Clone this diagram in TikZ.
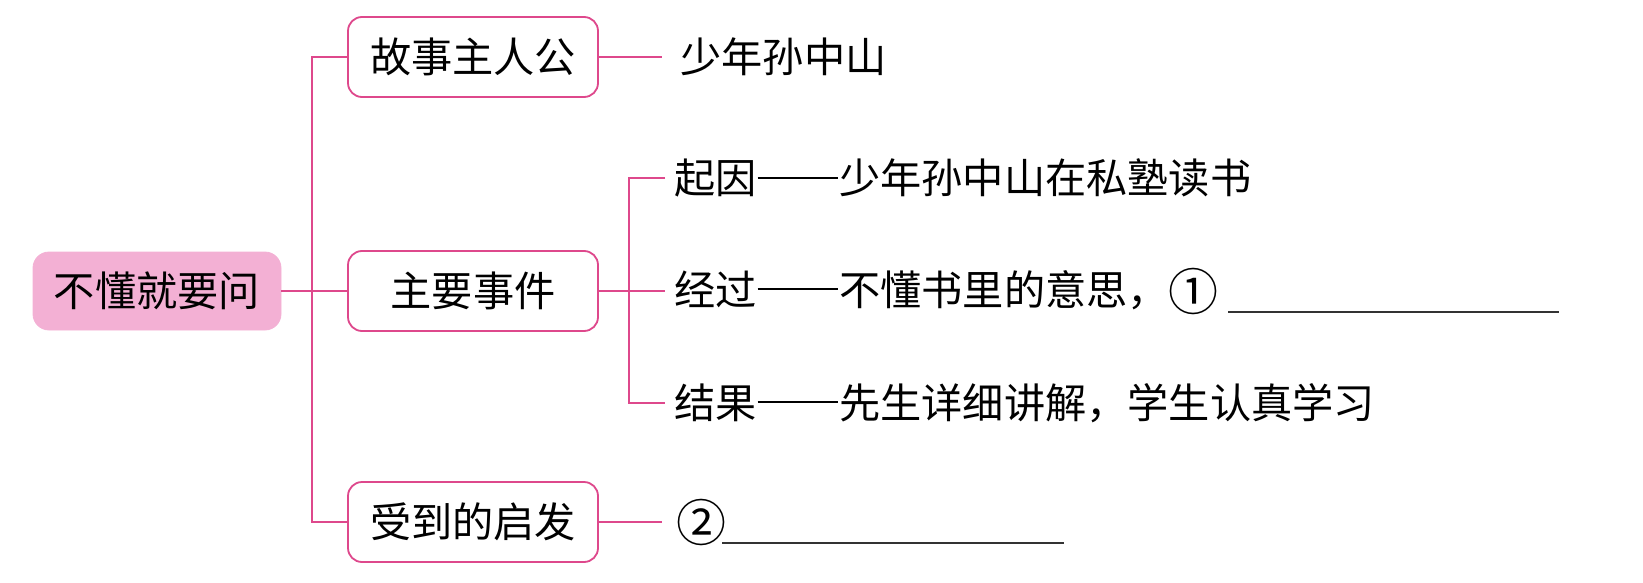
\documentclass[tikz,border=0pt]{standalone}
\usepackage{fontspec}
\newfontfamily\kai{Noto Sans CJK SC}
\definecolor{linepink}{RGB}{222,72,140}
\definecolor{rootfill}{RGB}{243,176,212}
\newcommand{\longdash}{\makebox[2em][c]{\rule[0.36em]{1.96em}{0.055em}}}
\newcommand{\circnum}[1]{\raisebox{-0.12em}{\fontsize{25pt}{25pt}\selectfont #1}}
\tikzset{
  txt/.style={font=\kai\fontsize{20.6pt}{24pt}\selectfont, text=black},
  rootbox/.style={txt, draw=rootfill, fill=rootfill, rounded corners=8pt, minimum width=124pt, minimum height=39pt, inner sep=0pt},
  topicbox/.style={txt, draw=linepink, line width=0.9pt, fill=white, rounded corners=7pt, minimum width=125pt, minimum height=40pt, inner sep=0pt},
  leaf/.style={txt, anchor=west, inner ysep=0pt},
  conn/.style={draw=linepink, line width=0.9pt},
  blank/.style={draw=black!80, line width=0.8pt}
}
\begin{document}
\begin{tikzpicture}[x=0.5pt,y=-0.5pt]
\useasboundingbox (0,0) rectangle (1643,583);
% nodes
\node[rootbox] (root) at (157,291) {不懂就要问};
\node[topicbox] (b1) at (473,57) {故事主人公};
\node[topicbox] (b2) at (473,291) {主要事件};
\node[topicbox] (b3) at (473,522) {受到的启发};
\node[leaf, inner xsep=9pt] (l1) at (662,57) {少年孙中山};
\node[leaf, inner xsep=4.5pt] (s1) at (665,178) {起因\longdash 少年孙中山在私塾读书};
\node[leaf, inner xsep=4.5pt] (s2) at (665,291) {经过\longdash 不懂书里的意思，\circnum{①}};
\node[leaf, inner xsep=4.5pt] (s3) at (665,403) {结果\longdash 先生详细讲解，学生认真学习};
\node[leaf, inner xsep=7pt] (l3) at (662,522) {\circnum{②}};
% trunk coordinates
\coordinate (t1) at (312,57);
\coordinate (t3) at (312,522);
\coordinate (u1) at (629,178);
\coordinate (u3) at (629,403);
\coordinate (a1) at (1228,312);
\coordinate (a2) at (1559,312);
\coordinate (c1) at (722,543);
\coordinate (c2) at (1064,543);
% connectors
\draw[conn] (b1.west) -- (t1) -- (t3) -- (b3.west);
\draw[conn] (root.east) -- (b2.west);
\draw[conn] (b1.east) -- (l1.west);
\draw[conn] (b3.east) -- (l3.west);
\draw[conn] (s1.west) -- (u1) -- (u3) -- (s3.west);
\draw[conn] (b2.east) -- (s2.west);
% blanks
\draw[blank] (a1) -- (a2);
\draw[blank] (c1) -- (c2);
\end{tikzpicture}
\end{document}
